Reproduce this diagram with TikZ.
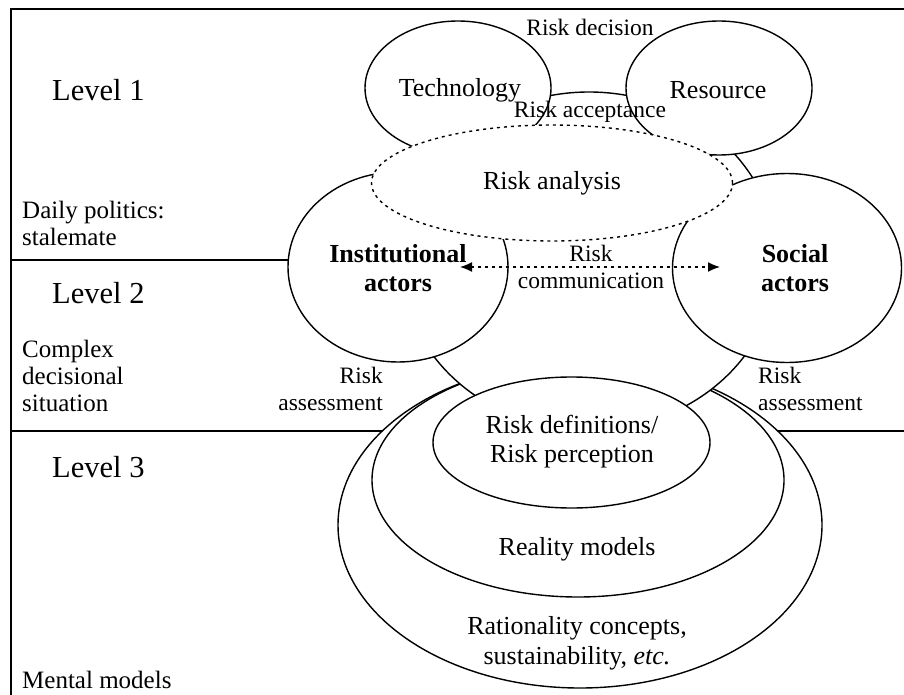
\documentclass[tikz,border=0pt]{standalone}
\usepackage{fontspec}
\setmainfont{Liberation Serif}
\usetikzlibrary{shapes.geometric,arrows.meta}
\begin{document}
\begin{tikzpicture}[x=1pt,y=-1pt,
  blob/.style={ellipse,draw,fill=white,line width=1.4pt,inner sep=0pt},
  dotline/.style={line width=1.4pt,dash pattern=on 3pt off 4pt},
  main/.style={font=\fontsize{26}{29}\selectfont,align=center,inner sep=0pt},
  small/.style={font=\fontsize{23.5}{27}\selectfont,inner sep=0pt},
  lvl/.style={font=\fontsize{30.5}{34}\selectfont,anchor=west,inner sep=0pt},
  side/.style={font=\fontsize{25}{27}\selectfont,anchor=west,align=left,inner sep=0pt},
  rule/.style={line width=1.4pt},
  twoway/.style={>={Latex[length=12pt,width=10pt]},<->}]
\useasboundingbox (0,0) rectangle (904,695);

% frame
\coordinate (fTL) at (11,9);
\coordinate (fTR) at (904,9);
\coordinate (fBL) at (11,695);
\draw[line width=1.8pt] (fTR) -- (fTL) -- (fBL);

% centres of the shapes that the level rules run behind
\coordinate (cOuter) at (580,525);
\coordinate (cInst) at (398,267);
\coordinate (l12) at (11,260);
\coordinate (l23) at (11,431);
\coordinate (r23) at (904,431);
\draw[rule] (l12) -- (l12 -| cInst);
\draw[rule] (l23) -- (l23 -| cOuter);
\draw[rule] (r23) -- (r23 -| cOuter);

% mental models (level 3)
\node[blob,minimum width=484pt,minimum height=326pt] (outer) at (cOuter) {};
\node[blob,minimum width=412pt,minimum height=234pt] (reality) at (578,480) {};

% decision arena
\node[blob,minimum width=376pt,minimum height=338pt] (core) at (589,261) {};
\node[blob,minimum width=186pt,minimum height=134pt] (tech) at (458,88) {};
\node[blob,minimum width=186pt,minimum height=134pt] (res) at (719,88) {};
\node[blob,minimum width=220pt,minimum height=190pt] (inst) at (cInst) {};
\node[blob,minimum width=229pt,minimum height=189pt] (soc) at (787,268) {};
\node[ellipse,draw,fill=white,dotline,inner sep=0pt,minimum width=361pt,minimum height=116pt] (ana) at (552,183) {};
\node[blob,minimum width=277pt,minimum height=131pt] (defs) at (571.5,442.5) {};

% labels inside the shapes
\node[main] (tTech) at (460,90) {Technology};
\node[main] (tRes) at (718,90) {Resource};
\node[main] (tAna) at (552,183) {Risk analysis};
\node[main,font=\fontsize{26}{29}\selectfont\bfseries] (tInst) at (398,268) {Institutional\\actors};
\node[main,font=\fontsize{26}{29}\selectfont\bfseries] (tSoc) at (795,268) {Social\\actors};
\node[main,font=\fontsize{26}{29}\selectfont] (tDefs) at (572,442) {Risk definitions/\\Risk perception};
\node[main] (tReal) at (577,549) {Reality models};
\node[main,font=\fontsize{26}{30}\selectfont] (tRat) at (577,643) {Rationality concepts,\\sustainability, \textit{etc.}};

% relation labels
\node[small] (tDec) at (590,27) {Risk decision};
\node[small] (tAcc) at (590,112) {Risk acceptance};
\node[small,align=center] (tCom) at (591,267) {Risk\\communication};
\node[small,align=right,anchor=east] (tAsL) at (383,389) {Risk\\assessment};
\node[small,align=left,anchor=west] (tAsR) at (758,389) {Risk\\assessment};

% risk communication between the actors
\coordinate (arL) at (460,267);
\coordinate (arR) at (720,267);
\draw[dotline,twoway] (arL) -- (arR);

% level captions
\node[lvl] (lv1) at (52,90) {Level 1};
\node[lvl] (lv2) at (52,293) {Level 2};
\node[lvl] (lv3) at (52,467) {Level 3};
\node[side] (s1) at (22,223) {Daily politics:\\stalemate};
\node[side] (s2) at (22,376) {Complex\\decisional\\situation};
\node[side] (s3) at (22,680) {Mental models};
\end{tikzpicture}
\end{document}
